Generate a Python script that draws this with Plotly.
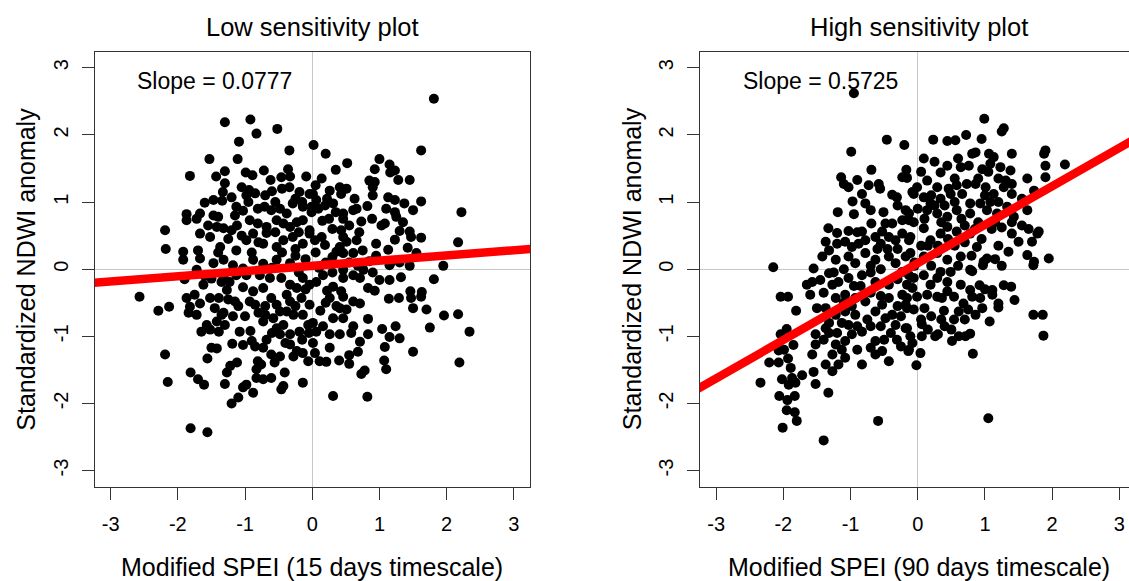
import plotly.graph_objects as go

W, H = 1129, 581

# ---------------- data ----------------
low_pts = [
(-1.30,2.19),(-0.92,2.23),(-0.83,2.02),(-0.52,2.09),(-1.09,1.90),(-0.34,1.77),(0.02,1.85),(-1.53,1.64),(-1.11,1.64),(-1.82,1.39),(-1.43,1.38),(-1.30,1.46),(-0.99,1.44),(-0.89,1.40),(-0.72,1.47),(-0.62,1.33),(-0.46,1.37),(-0.36,1.49),(-0.33,1.38),(-0.09,1.38),(-1.30,1.28),(-1.05,1.22),(-0.94,1.18),(-0.85,1.13),(-0.98,1.10),(-0.60,1.16),(-0.34,1.22),(-0.19,1.15),(-0.04,1.12),(-1.33,1.15),(-1.20,1.07),(-1.34,1.02),(-1.60,0.99),(-1.47,1.03),(-1.13,0.93),(-1.03,0.87),(-0.81,0.90),(-0.71,0.93),(-0.61,0.88),(-0.48,0.90),(-0.38,0.83),(-0.29,0.98),(-0.14,0.93),(-0.01,0.85),(-1.87,0.82),(-1.87,0.73),(-1.67,0.83),(-1.72,0.75),(-1.47,0.80),(-1.40,0.78),(-1.55,0.65),(-1.42,0.63),(-1.32,0.61),(-1.20,0.58),(-1.12,0.65),(-0.93,0.73),(-0.81,0.68),(-0.68,0.63),(-0.53,0.73),(-0.43,0.68),(-0.33,0.63),(-0.23,0.70),(-0.14,0.73),(-2.19,0.58),(-2.18,0.30),(-1.92,0.26),(-1.92,0.14),(-1.70,0.28),(-1.67,0.16),(-1.67,0.53),(-1.52,0.48),(-1.37,0.33),(-1.13,0.28),(-0.98,0.43),(-0.88,0.53),(-0.73,0.38),(-0.68,0.54),(-0.53,0.33),(-0.43,0.43),(-0.29,0.48),(-0.14,0.38),(-0.04,0.53),(-1.47,0.09),(-1.32,0.14),(-1.18,0.06),(-0.88,0.14),(-0.73,0.08),(-0.53,0.14),(-0.33,0.09),
(1.81,2.54),(1.62,1.77),(0.20,1.72),(0.52,1.58),(0.35,1.48),(1.00,1.64),(0.93,1.49),(1.15,1.56),(1.16,1.44),(1.23,1.47),(1.28,1.33),(1.45,1.33),(0.14,1.35),(0.85,1.32),(0.93,1.30),(0.90,1.22),(0.26,1.17),(0.41,1.22),(0.51,1.20),(0.43,1.12),(0.90,1.10),(0.01,1.12),(0.06,1.03),(-0.01,0.93),(0.09,0.90),(0.19,0.95),(0.31,0.98),(0.63,1.05),(1.13,1.07),(1.23,1.03),(1.37,0.98),(1.62,1.01),(0.61,0.88),(0.66,0.90),(0.82,0.94),(0.46,0.83),(0.46,0.75),(0.73,0.71),(0.89,0.75),(1.10,0.90),(1.23,0.85),(1.25,0.78),(1.35,0.70),(1.50,0.88),(0.15,0.72),(1.03,0.65),(1.08,0.68),(2.22,0.85),(2.17,0.40),(-0.04,0.58),(0.04,0.43),(0.14,0.48),(0.19,0.36),(0.43,0.58),(0.46,0.48),(0.51,0.41),(0.41,0.33),(0.66,0.43),(0.36,0.26),(0.46,0.24),(0.61,0.24),(0.75,0.28),(0.95,0.38),(1.30,0.57),(1.45,0.56),(1.47,0.48),(1.62,0.47),(1.23,0.44),(1.13,0.29),(1.42,0.32),(1.55,0.24),(1.95,0.05),(1.16,0.09),
(-2.57,-0.41),(-2.29,-0.62),(-2.13,-0.56),(-2.19,-1.27),(-2.15,-1.68),(-1.81,-2.37),(-1.56,-2.43),(-1.87,-0.43),(-1.82,-0.56),(-1.84,-0.65),(-1.72,-0.68),(-1.67,-0.51),(-1.75,-0.38),(-1.62,-0.23),(-1.50,-0.14),(-1.35,-0.19),(-1.27,-0.31),(-1.39,-0.43),(-1.52,-0.43),(-1.45,-0.58),(-1.32,-0.65),(-1.15,-0.48),(-1.03,-0.27),(-1.18,-0.70),(-1.65,-0.93),(-1.57,-0.83),(-1.52,-0.90),(-1.39,-0.93),(-1.42,-0.78),(-1.30,-0.83),(-1.35,-0.68),(-1.08,-0.93),(-0.92,-0.92),(-1.19,-1.11),(-1.03,-1.13),(-0.90,-1.07),(-0.85,-1.15),(-0.73,-1.17),(-1.50,-1.17),(-1.42,-1.18),(-1.56,-1.33),(-1.81,-1.54),(-1.70,-1.64),(-1.61,-1.72),(-1.30,-1.71),(-1.27,-1.54),(-1.22,-1.44),(-1.12,-1.39),(-1.20,-2.00),(-1.10,-1.91),(-1.03,-1.76),(-0.98,-1.72),(-0.88,-1.84),(-0.83,-1.62),(-0.73,-1.64),(-0.61,-1.62),(-0.81,-1.37),(-0.76,-1.42),(-0.83,-1.49),(-0.61,-1.27),(-0.48,-1.30),(-0.56,-1.39),(-0.41,-1.54),(-0.43,-1.74),(-0.46,-1.79),(-0.14,-1.69),
(-0.93,-0.48),(-0.85,-0.53),(-0.88,-0.33),(-0.73,-0.28),(-0.61,-0.43),(-0.70,-0.68),(-0.73,-0.78),(-0.58,-0.73),(-0.53,-0.88),(-0.43,-0.83),(-0.33,-0.97),(-0.48,-0.97),(-0.33,-1.12),(-0.23,-1.22),(-0.28,-1.30),(-0.14,-1.25),(-0.06,-1.37),(-0.19,-0.93),(-0.06,-0.83),(-0.14,-0.68),(-0.04,-0.53),(-0.16,-0.43),(-0.33,-0.48),(-0.38,-0.38),(-0.33,-0.23),(-0.23,-0.28),(-0.14,-0.13),(-0.04,-0.23),(-0.53,-0.53),(-0.48,-0.63),(-0.38,-0.63),(-0.28,-0.68),(-0.46,-0.13),(-0.63,-0.13),(-0.78,-0.09),(-0.98,-0.09),(-1.13,-0.09),(-1.32,-0.13),(-1.72,-0.01),(-1.23,-0.19),(-1.03,0.01),
(1.15,0.06),(1.81,-0.15),(1.00,-0.16),(1.15,-0.16),(0.83,-0.28),(0.93,-0.32),(1.14,-0.44),(1.29,-0.43),(1.46,-0.33),(1.47,-0.43),(1.63,-0.34),(1.62,-0.41),(1.50,-0.58),(1.70,-0.60),(1.96,-0.69),(2.17,-0.67),(2.34,-0.93),(1.75,-0.87),(0.83,-0.74),(1.04,-0.89),(1.24,-0.85),(1.15,-1.01),(1.30,-1.03),(1.08,-1.16),(1.50,-1.23),(1.07,-1.36),(1.10,-1.49),(2.19,-1.39),(0.73,-1.56),(0.78,-1.51),(0.31,-1.89),(0.82,-1.90),(0.83,-0.97),(0.71,-1.08),(0.68,-1.23),(0.55,-1.28),(0.55,-1.41),(0.40,-1.36),(0.26,-1.17),(0.21,-1.38),(0.11,-1.37),(0.04,-1.25),(0.01,-1.10),(0.26,-0.97),(0.06,-0.93),(0.16,-0.85),(0.31,-0.73),(0.26,-0.43),(0.46,-0.41),(0.61,-0.48),(0.71,-0.51),(0.41,-0.58),(0.51,-0.60),(0.46,-0.73),(0.61,-0.85),(0.58,-0.95),(0.41,-0.97),(0.01,-0.80),(0.31,-0.26),(0.43,-0.33),(0.06,-0.19),(0.16,-0.09),(0.46,-0.13),(0.61,-0.09),(0.71,-0.13),(0.76,-0.01),(0.46,-0.01),
(-0.25,0.20),(-0.10,0.15),(0.05,0.25),(0.20,0.10),(0.30,0.18),(0.55,0.10),(0.68,0.05),(0.85,0.12),(0.95,0.20),(-0.45,0.25),(-0.60,0.02),(-0.20,-0.05),(0.10,0.02),(0.30,-0.05),(0.90,-0.05),(1.30,0.10),(1.45,0.05),(1.32,-0.12),(-0.90,0.25),(-1.40,0.25),(-1.60,-0.10),(-1.90,-0.15),
(-0.60,-0.95),(-0.68,-1.05),(-0.40,-1.10),(-0.15,-1.05),(-0.05,-0.95),(0.12,-0.62),(0.20,-0.50),(0.36,-0.55),(0.22,-0.32),(-0.10,-0.30),(-0.25,-0.55),(-0.70,-0.55),(-0.80,-0.65),(-1.00,-0.70),(-1.10,-0.55),(-1.25,-0.45),
(-0.55,1.00),(-0.25,1.05),(-0.70,1.10),(-0.45,1.20),(-0.15,1.00),(0.05,1.25),(0.22,1.05),(0.35,0.85),(0.55,0.65),(0.70,0.55),(0.30,0.60),(0.25,0.75),(-0.20,0.55),(-0.55,0.55),(-0.80,0.40),(-1.05,0.50),(-1.25,0.45),(-0.95,1.00),(-1.15,0.80),(-0.25,0.30),
]

high_pts = [
(-0.95,2.62),(-0.46,1.93),(-0.20,1.85),(-0.99,1.75),(-0.69,1.48),(-0.17,1.48),(-0.23,1.37),(-0.16,1.36),(-1.14,1.37),(-1.10,1.27),(-1.03,1.22),(-0.90,1.33),(-0.73,1.25),(-0.58,1.27),(-0.56,1.20),(-0.38,1.11),(-0.31,1.07),(-0.08,1.15),(-0.83,1.12),(-0.97,1.01),(-0.78,0.98),(-0.70,0.88),(-0.51,0.85),(-1.19,0.85),(-0.95,0.82),(-0.18,0.88),(-0.13,0.73),(-0.23,0.73),(-0.69,0.68),(-0.48,0.68),(-0.38,0.68),(-1.33,0.61),(-1.20,0.54),(-1.03,0.57),(-0.83,0.56),(-0.78,0.43),(-0.63,0.48),(-0.53,0.56),(-0.43,0.48),(-0.33,0.43),(-0.23,0.53),(-0.13,0.43),(-1.37,0.41),(-1.32,0.28),(-1.20,0.38),(-1.08,0.41),(-0.98,0.33),(-0.88,0.38),(-1.42,0.19),(-1.22,0.14),(-1.03,0.19),(-0.93,0.09),(-0.78,0.24),(-0.63,0.14),(-0.43,0.19),(-0.33,0.09),(-0.18,0.19),(-2.15,0.03),(-1.55,0.01),
(0.99,2.24),(1.25,2.05),(1.28,2.10),(0.23,1.93),(0.44,1.91),(0.56,1.92),(0.72,2.00),(0.95,1.94),(0.09,1.65),(0.81,1.72),(0.86,1.74),(1.06,1.72),(1.13,1.67),(1.40,1.72),(1.90,1.77),(1.88,1.72),(1.90,1.54),(2.19,1.56),(1.90,1.37),(1.63,1.35),(1.73,1.17),(0.44,1.54),(0.34,1.44),(0.64,1.52),(0.76,1.54),(0.96,1.49),(1.08,1.57),(1.23,1.52),(1.38,1.47),(1.31,1.32),(-0.01,1.22),(0.14,1.32),(0.29,1.22),(0.46,1.20),(0.58,1.25),(0.73,1.27),(0.86,1.27),(1.01,1.22),(1.13,1.12),(1.28,1.22),(1.40,1.27),(1.40,1.12),(-0.06,1.12),(0.09,1.07),(0.19,0.98),(0.34,1.05),(0.49,1.12),(0.66,1.12),(0.78,0.98),(0.93,0.98),(1.08,1.00),(-0.13,0.83),(-0.06,0.70),(0.14,0.88),(0.29,0.83),(0.44,0.78),(0.58,0.88),(0.78,0.83),(1.03,0.88),(1.18,0.83),(1.33,0.93),(1.43,0.78),(1.40,0.70),(1.63,0.88),(1.78,0.53),(1.80,0.56),(1.70,0.41),(1.50,0.41),(1.40,0.53),(1.35,0.26),(1.63,0.21),(1.73,0.11),(1.95,0.16),(-0.11,0.48),(0.09,0.61),(0.19,0.43),(0.34,0.53),(0.44,0.63),(0.58,0.56),(0.78,0.53),(0.88,0.33),(1.03,0.16),(0.98,0.11),(0.78,-0.01),(0.64,0.19),(0.44,0.14),(0.29,0.24),(0.09,0.19),(-0.11,0.24),
(-1.32,-0.06),(-2.04,-0.41),(-1.93,-0.41),(-1.81,-0.62),(-1.65,-0.23),(-1.57,-0.19),(-1.60,-0.38),(-1.45,-0.16),(-1.50,-0.58),(-1.37,-0.58),(-1.37,-0.88),(-1.52,-1.12),(-1.57,-1.27),(-2.04,-0.97),(-1.95,-0.89),(-1.85,-1.13),(-1.99,-1.20),(-2.07,-1.21),(-2.21,-1.39),(-2.07,-1.39),(-1.93,-1.33),(-1.89,-1.47),(-2.02,-1.64),(-1.87,-1.62),(-1.82,-1.69),(-1.72,-1.58),(-1.92,-1.72),(-1.83,-1.89),(-1.94,-1.95),(-2.06,-1.89),(-1.95,-2.10),(-1.83,-2.13),(-1.80,-2.26),(-2.01,-2.36),(-2.34,-1.69),(-1.55,-1.53),(-1.52,-1.71),(-1.33,-1.84),(-1.40,-2.55),(-0.59,-2.26),
(-1.52,-0.97),(-1.40,-1.05),(-1.32,-0.95),(-1.22,-1.12),(-1.27,-1.27),(-1.37,-1.42),(-1.27,-1.52),(-1.18,-1.42),(-1.08,-1.32),(-1.13,-1.20),(-1.08,-1.07),(-0.98,-0.97),(-1.03,-0.83),(-1.13,-0.80),(-1.32,-0.80),(-1.22,-0.68),(-1.08,-0.63),(-0.93,-0.68),(-0.83,-0.93),(-0.83,-1.42),(-0.63,-1.07),(-0.70,-1.17),(-0.63,-1.27),(-0.53,-1.22),(-0.43,-1.37),(-0.31,-1.05),(-0.13,-1.20),(-0.33,-0.83),(-0.18,-0.88),(-0.38,-0.68),(-0.48,-0.73),(-0.18,-0.53),(-0.23,-0.38),(-0.43,-0.23),(-0.63,-0.19),(-0.83,-0.09),(-1.03,-0.13),(-1.18,-0.19),(-1.27,-0.23),(-1.22,-0.43),(-1.08,-0.38),(-0.93,-0.43),(-0.78,-0.48),(-0.63,-0.63),(-0.53,-0.53),(-0.43,-0.43),(-0.08,-0.28),(-0.13,-0.09),(-0.23,-0.04),
(0.81,-0.03),(0.97,0.06),(1.72,0.06),(1.28,-0.24),(1.39,-0.26),(1.44,-0.46),(1.72,-0.68),(1.86,-0.68),(1.87,-0.99),(1.11,-0.31),(1.11,-0.38),(1.20,-0.51),(1.20,-0.57),(1.07,-0.78),(0.92,-0.24),(0.78,-0.31),(0.81,-0.41),(0.93,-0.43),(0.96,-0.58),(0.86,-0.68),(0.68,-0.51),(0.61,-0.63),(0.54,-0.75),(0.61,-1.00),(0.51,-1.07),(0.71,-1.00),(0.78,-0.96),(0.82,-1.26),(0.26,-1.00),(0.30,-0.97),(0.39,-0.62),(0.10,-0.58),(0.05,-0.75),(0.06,-0.82),(0.06,-1.00),(-0.16,-0.88),(-0.11,-1.00),(-0.08,-1.10),(-0.14,-1.22),(0.04,-1.25),(-0.02,-1.43),(1.05,-2.22),
(0.64,-0.23),(0.44,-0.33),(0.29,-0.41),(0.14,-0.38),(-0.01,-0.41),(-0.16,-0.43),(-0.16,-0.58),(-0.06,-0.60),(0.19,-0.23),(0.29,-0.13),(0.44,-0.19),(0.49,-0.04),(0.34,-0.04),(0.09,-0.09),(-0.06,-0.13),(-0.16,-0.23),(0.54,-0.41),(0.36,-0.43),
(-0.55,0.00),(-0.70,-0.05),(-0.95,-0.25),(-0.30,-0.15),(-0.05,0.05),(0.20,0.05),(0.55,0.35),(0.70,0.40),(0.95,0.45),(1.10,0.60),(1.20,0.35),(0.65,0.75),(0.90,0.70),(1.00,1.10),(1.20,1.35),(0.55,1.35),(0.20,1.10),(-0.30,0.95),(-0.45,0.30),(-0.60,0.30),(-0.85,-0.25),(-1.40,-0.35),(-0.70,-0.85),(-0.90,-1.20),(-0.40,-0.95),(-0.25,-0.70),(0.20,-0.70),(0.40,-0.85),(0.15,0.35),(0.35,0.70),
(0.00,0.90),(0.10,0.75),(0.25,0.95),(0.40,0.95),(0.55,1.00),(0.70,0.65),(0.85,0.60),(1.15,0.70),(1.25,0.62),(0.30,0.35),(0.45,0.45),(0.05,0.35),(-0.05,0.10),(-0.30,0.30),(-0.55,0.38),(-0.70,0.05),(-0.90,0.55),(-1.10,0.00),(-1.25,-0.05),(-1.10,-0.50),(-0.98,-0.55),(-0.70,-0.35),(-0.55,-0.40),(-0.30,-0.55),(-0.55,-0.85),(-0.75,-0.75),(-0.90,-0.85),(-1.20,-0.95),(-0.50,-1.05),(-0.25,-1.15),(0.15,-0.90),(0.35,-0.75),(0.50,-0.90),(0.70,-0.75),(0.75,-0.60),(1.00,-0.30),(0.60,0.05),(0.80,0.20),(1.15,0.15),(1.25,0.05),(0.05,1.45),(0.25,1.60),(0.60,1.65),(0.90,1.35),(1.05,1.45),(1.20,1.00),(1.55,1.05),(1.55,0.65),(1.65,0.60),
]

panel_titles = ["Low sensitivity plot", "High sensitivity plot"]
x_titles = ["Modified SPEI (15 days timescale)", "Modified SPEI (90 days timescale)"]
y_title = "Standardized NDWI anomaly"
slopes = [0.0777, 0.5725]
intercepts = [0.05, 0.09]
tick_vals = [-3, -2, -1, 0, 1, 2, 3]
tick_text = ["-3", "-2", "-1", "0", "1", "2", "3"]

# ---------------- layout geometry (pixels) ----------------
FONT = "Liberation Sans, Arial, sans-serif"
box_top, box_bot = 51.7, 486.7
left_dom = [94.5 / W, 530.0 / W]
right_dom = [700.0 / W, 1.0]
y_dom = [(H - box_bot) / H, (H - box_top) / H]
x_range_left = [-3.24, 3.24]
# right panel is cut off by the image edge
unit = (530.0 - 94.5) / 6.48
x_range_right = [-3.24, -3.24 + (W - 700.0) / unit]
y_range = [-3.24, 3.24]

fig = go.Figure()

panels = [(low_pts, "x", "y", x_range_left), (high_pts, "x2", "y2", x_range_right)]
for i, (pts, xa, ya, xr) in enumerate(panels):
    xs = [p[0] for p in pts]
    ys = [p[1] for p in pts]
    fig.add_trace(go.Scatter(x=xs, y=ys, mode="markers", xaxis=xa, yaxis=ya,
                             marker=dict(color="black", size=10, line=dict(width=0)),
                             showlegend=False, hoverinfo="skip"))
    lx = [-3.6, 3.6]
    ly = [intercepts[i] + slopes[i] * v for v in lx]
    fig.add_trace(go.Scatter(x=lx, y=ly, mode="lines", xaxis=xa, yaxis=ya,
                             line=dict(color="#ff0000", width=8.5),
                             showlegend=False, hoverinfo="skip"))

axis_common = dict(
    tickmode="array", tickvals=tick_vals, ticktext=tick_text,
    ticks="outside", ticklen=12, tickwidth=1, tickcolor="#333",
    showgrid=False, zeroline=True, zerolinecolor="#c8c8c8", zerolinewidth=1,
    showline=True, linecolor="#333", linewidth=1,
    tickfont=dict(family=FONT, size=20, color="black"),
    fixedrange=True,
)

fig.update_layout(
    width=W, height=H, autosize=False,
    margin=dict(l=0, r=0, t=0, b=0),
    paper_bgcolor="white", plot_bgcolor="white",
    xaxis=dict(domain=left_dom, range=x_range_left, anchor="y", mirror=True,
               ticklabelstandoff=7, **axis_common),
    yaxis=dict(domain=y_dom, range=y_range, anchor="x", mirror=True,
               tickangle=-90, ticklabelstandoff=6, **axis_common),
    xaxis2=dict(domain=right_dom, range=x_range_right, anchor="y2", mirror=True,
                ticklabelstandoff=7, **axis_common),
    yaxis2=dict(domain=y_dom, range=y_range, anchor="x2", mirror=False,
                tickangle=-90, ticklabelstandoff=6, **axis_common),
)

annotations = []
centers = [312.3, 918.5]
box_lefts = [94.5, 700.0]
for i in range(2):
    annotations.append(dict(text=panel_titles[i], x=centers[i] / W, y=(H - 27) / H,
                            xref="paper", yref="paper", showarrow=False,
                            xanchor="center", yanchor="middle",
                            font=dict(family=FONT, size=25.5, color="black")))
    annotations.append(dict(text=x_titles[i], x=centers[i] / W, y=(H - 567) / H,
                            xref="paper", yref="paper", showarrow=False,
                            xanchor="center", yanchor="middle",
                            font=dict(family=FONT, size=25, color="black")))
    annotations.append(dict(text=y_title, x=(box_lefts[i] - 68) / W,
                            y=(H - (box_top + box_bot) / 2) / H,
                            xref="paper", yref="paper", showarrow=False, textangle=-90,
                            xanchor="center", yanchor="middle",
                            font=dict(family=FONT, size=25, color="black")))
    annotations.append(dict(text="Slope = %.4f" % slopes[i], x=-1.45, y=2.8,
                            xref="x" if i == 0 else "x2", yref="y" if i == 0 else "y2",
                            showarrow=False, xanchor="center", yanchor="middle",
                            font=dict(family=FONT, size=23, color="black")))
fig.update_layout(annotations=annotations)

fig.write_html("out.html", config={"displayModeBar": False},
               post_script="document.body.style.margin='0';document.body.style.overflow='hidden';")
